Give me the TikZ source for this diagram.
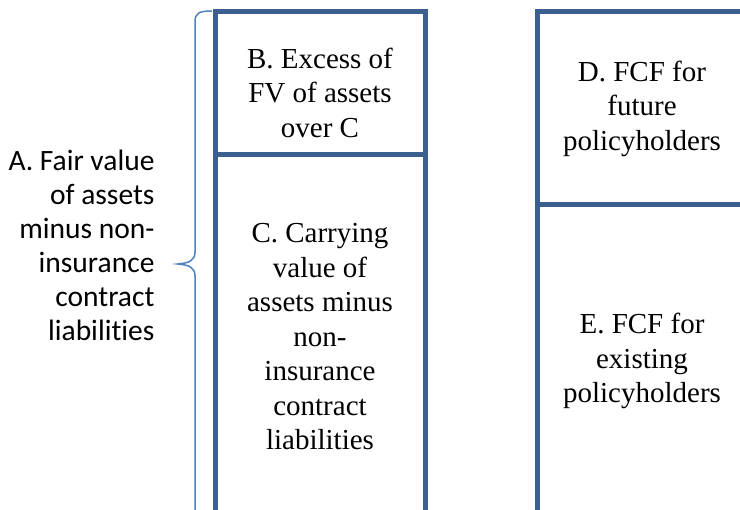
\documentclass[tikz,border=0pt]{standalone}
\usepackage{fontspec}
\setmainfont{Liberation Serif}
\newfontfamily\carlito[Ligatures=NoCommon]{Carlito}
\usetikzlibrary{positioning}

\definecolor{boxblue}{HTML}{3B5F8E}
\definecolor{braceblue}{HTML}{4F81BD}

\tikzset{
  cell/.style={rectangle, draw=boxblue, line width=5pt, minimum width=210pt, inner sep=0pt, outer sep=0pt},
  txt/.style={align=center, font=\fontsize{29}{34.5}\selectfont},
  brace/.style={draw=braceblue, line width=1.5pt},
}

\begin{document}
\begin{tikzpicture}[x=1pt, y=-1pt]
\useasboundingbox (0,0) rectangle (740,510);
\clip (0,0) rectangle (740,510);

% left column
\node [cell, minimum height=143pt] (B) at (320,83.5) {};
\node [cell, minimum height=364pt, below = 0pt of B] (C) {};
% right column
\node [cell, minimum height=193pt] (D) at (642,108.5) {};
\node [cell, minimum height=312pt, below = 0pt of D] (E) {};

\node [txt] (Btxt) at ([yshift=-9pt]B.center) {B. Excess of\\FV of assets\\over C};
\node [txt] (Ctxt) at (C) {C. Carrying\\value of\\assets minus\\non-\\insurance\\contract\\liabilities};
\node [txt] (Dtxt) at (D) {D. FCF for\\future\\policyholders};
\node [txt] (Etxt) at (E) {E. FCF for\\existing\\policyholders};

\node [align=right, anchor=east, font=\carlito\fontsize{29.5}{34}\selectfont] (A) at (158,245) {A. Fair value\\of assets\\minus non-\\insurance\\contract\\liabilities};

% brace for A
\coordinate (Atop) at (212,11);
\coordinate (Atip) at (178,264);
\coordinate (Abot) at (195,520);
\draw [brace] (Atop) .. controls (199,11) and (195,13) .. (195,22) -- (195,252)
  .. controls (195,260) and (190,263) .. (Atip)
  .. controls (190,265) and (195,268) .. (195,276) -- (Abot);

\end{tikzpicture}
\end{document}
